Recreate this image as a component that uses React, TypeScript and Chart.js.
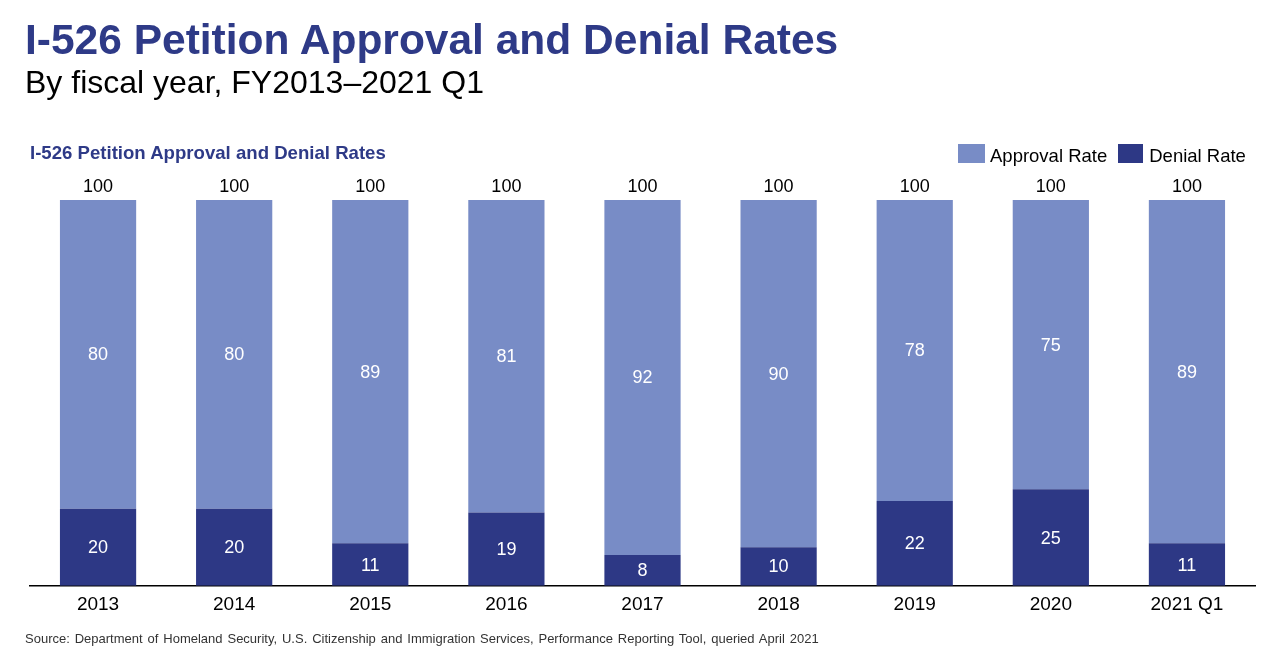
import React, { useEffect, useRef } from "react";
import { Chart, registerables } from "chart.js";

Chart.register(...registerables);

const categories = ["2013", "2014", "2015", "2016", "2017", "2018", "2019", "2020", "2021 Q1"];
const denialRate = [20, 20, 11, 19, 8, 10, 22, 25, 11];
const approvalRate = [80, 80, 89, 81, 92, 90, 78, 75, 89];
const totals = [100, 100, 100, 100, 100, 100, 100, 100, 100];

const APPROVAL_COLOR = "#788CC6";
const DENIAL_COLOR = "#2D3885";
const NAVY = "#2E3A87";
const FONT = "'Liberation Sans', Arial, sans-serif";

const labelPlugin = {
  id: "segLabels",
  afterDatasetsDraw(chart: any) {
    const ctx = chart.ctx;
    ctx.save();
    ctx.font = `18px ${FONT}`;
    ctx.textAlign = "center";
    ctx.textBaseline = "middle";
    chart.data.datasets.forEach((ds: any, di: number) => {
      const meta = chart.getDatasetMeta(di);
      meta.data.forEach((el: any, i: number) => {
        const v = ds.data[i];
        const { x, y, base } = el.getProps(["x", "y", "base"], true);
        ctx.fillStyle = "#FFFFFF";
        ctx.fillText(String(v), x, (y + base) / 2 + 1);
      });
    });
    const topMeta = chart.getDatasetMeta(chart.data.datasets.length - 1);
    topMeta.data.forEach((el: any, i: number) => {
      const yTop = chart.scales.y.getPixelForValue(totals[i]);
      ctx.fillStyle = "#000000";
      ctx.fillText(String(totals[i]), el.x, yTop - 13);
    });
    ctx.restore();
  },
};

export default function App() {
  const canvasRef = useRef<HTMLCanvasElement | null>(null);

  useEffect(() => {
    document.body.style.margin = "0";
    const chart = new Chart(canvasRef.current as HTMLCanvasElement, {
      type: "bar",
      data: {
        labels: categories,
        datasets: [
          {
            label: "Denial Rate",
            data: denialRate,
            backgroundColor: DENIAL_COLOR,
            borderWidth: 0,
            barPercentage: 0.56,
            categoryPercentage: 1,
          },
          {
            label: "Approval Rate",
            data: approvalRate,
            backgroundColor: APPROVAL_COLOR,
            borderWidth: 0,
            barPercentage: 0.56,
            categoryPercentage: 1,
          },
        ],
      },
      options: {
        animation: false,
        responsive: false,
        maintainAspectRatio: false,
        layout: { padding: { left: 30, right: 25, top: 200, bottom: 27.4 } },
        plugins: {
          legend: { display: false },
          tooltip: { enabled: false },
          title: { display: false },
        },
        scales: {
          x: {
            stacked: true,
            grid: { display: false, drawTicks: false },
            border: { display: true, color: "#000000", width: 1.5 },
            ticks: {
              color: "#000000",
              font: { family: FONT, size: 19 },
              padding: 8,
              maxRotation: 0,
              autoSkip: false,
            },
          },
          y: {
            stacked: true,
            display: false,
            min: 0,
            max: 100,
          },
        },
      },
      plugins: [labelPlugin],
    });
    return () => chart.destroy();
  }, []);

  const abs = (o: React.CSSProperties): React.CSSProperties => ({
    position: "absolute",
    whiteSpace: "nowrap",
    fontFamily: FONT,
    ...o,
  });

  return (
    <div style={{ position: "relative", width: 1280, height: 652, background: "#fff", overflow: "hidden" }}>
      <canvas ref={canvasRef} width={1280} height={652} style={{ position: "absolute", left: 0, top: 0, width: 1280, height: 652 }} />
      <div style={abs({ left: 25, top: 18.5, fontSize: 42.5, lineHeight: "42.5px", fontWeight: "bold", color: NAVY })}>
        I-526 Petition Approval and Denial Rates
      </div>
      <div style={abs({ left: 25, top: 66, fontSize: 32, lineHeight: "32px", color: "#000" })}>
        By fiscal year, FY2013–2021 Q1
      </div>
      <div style={abs({ left: 30, top: 143.5, fontSize: 18.6, lineHeight: "18.6px", fontWeight: "bold", color: NAVY })}>
        I-526 Petition Approval and Denial Rates
      </div>
      <div style={abs({ left: 958, top: 144, display: "flex", alignItems: "center", fontSize: 18.5, color: "#000" })}>
        <span style={{ display: "inline-block", width: 27, height: 19, background: APPROVAL_COLOR, marginRight: 5 }} />
        <span style={{ lineHeight: "19px", marginRight: 11, position: "relative", top: 1.5 }}>Approval Rate</span>
        <span style={{ display: "inline-block", width: 25, height: 19, background: DENIAL_COLOR, marginRight: 6 }} />
        <span style={{ lineHeight: "19px", position: "relative", top: 1.5 }}>Denial Rate</span>
      </div>
      <div style={abs({ left: 25, top: 632, fontSize: 13, lineHeight: "13px", color: "#333", wordSpacing: 1.3 })}>
        Source: Department of Homeland Security, U.S. Citizenship and Immigration Services, Performance Reporting Tool, queried April 2021
      </div>
    </div>
  );
}
